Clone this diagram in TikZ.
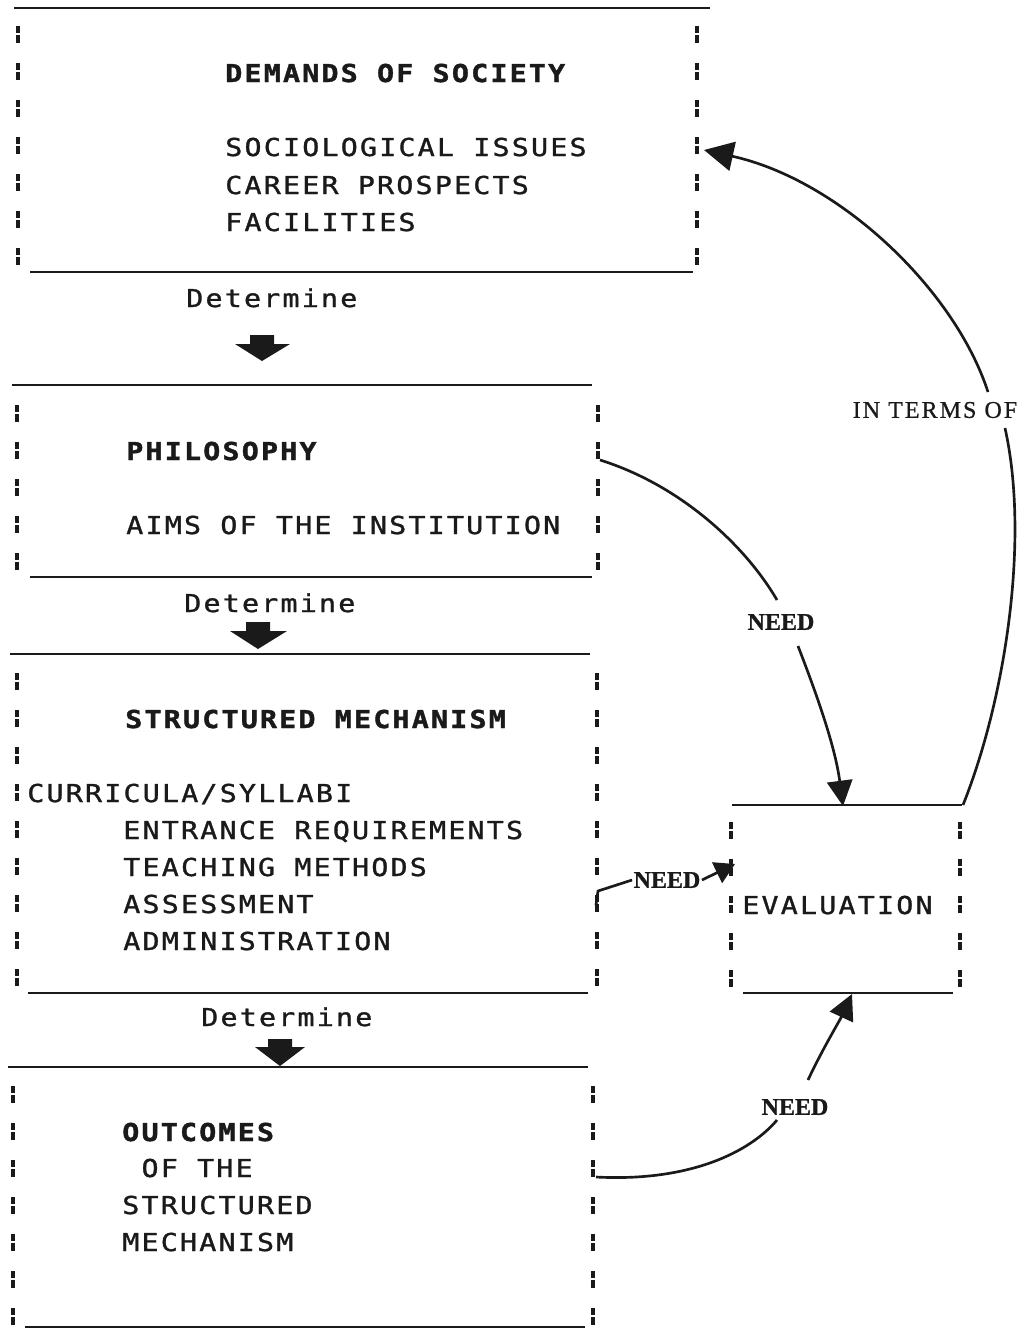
\documentclass[tikz,border=0pt]{standalone}
\usepackage{fontspec}
\usetikzlibrary{arrows.meta,calc,fit}
\newfontfamily\dotfont[FakeStretch=1.15,LetterSpace=8.8,FakeBold=1.2]{DejaVu Sans Mono}
\newfontfamily\dotfonthd[FakeStretch=1.15,LetterSpace=8.8,FakeBold=1.5]{DejaVu Sans Mono Bold}
\newfontfamily\labfont[FakeBold=1]{Liberation Serif}
\newfontfamily\labfontsp[LetterSpace=8.6,FakeBold=0.8]{Liberation Serif}
\definecolor{ink}{HTML}{1A1A1A}
\begin{document}
\begin{tikzpicture}[x=0.75pt,y=-0.75pt,
 hline/.style={line width=2.2pt, draw=ink},
 vside/.style={line width=2.4pt, draw=ink, dash pattern=on 5pt off 2pt on 6pt off 14.75pt},
 txt/.style={anchor=base west, inner sep=0pt, font=\dotfont\fontsize{18.5pt}{20pt}\selectfont, text=ink},
 hd/.style={txt, font=\dotfonthd\fontsize{18.5pt}{20pt}\selectfont},
 lab/.style={inner sep=1pt, font=\labfont\bfseries\fontsize{18pt}{20pt}\selectfont, text=ink},
 labsp/.style={inner sep=1pt, font=\labfontsp\fontsize{18pt}{20pt}\selectfont, text=ink},
 conn/.style={line width=2pt, draw=ink},
 bigtip/.style={-{Triangle[length=19pt,width=19pt]}},
 toptip/.style={-{Triangle[length=22pt,width=22pt]}},
 smalltip/.style={-{Triangle[length=15pt,width=17pt]}},
 boxarea/.style={inner sep=0pt, draw=none},
 blk/.style={fill=ink}
]
\useasboundingbox (0,0) rectangle (1035,1329);
\fill[white] (0,0) rectangle (1035,1329);

% ---------- box areas ----------
\node[boxarea, fit={(14,8) (710,272)}] (demands) {};
\node[boxarea, fit={(12,385) (598,577)}] (phil) {};
\node[boxarea, fit={(10,654) (597,993)}] (struct) {};
\node[boxarea, fit={(8,1067) (593,1327)}] (outc) {};
\node[boxarea, fit={(731,805) (962,993)}] (eval) {};

% ---------- Demands of society ----------
\draw[hline] (14,8) -- (710,8);
\draw[hline] (30,272) -- (693,272);
\draw[vside] (18,26) -- (18,270);
\draw[vside] (697,26) -- (697,268);
\node[hd]  (d0) at (225,82)  {DEMANDS OF SOCIETY};
\node[txt] (d1) at (225,156) {SOCIOLOGICAL ISSUES};
\node[txt] (d2) at (225,194) {CAREER PROSPECTS};
\node[txt] (d3) at (225,231) {FACILITIES};

\node[txt] (det1) at (186,307) {Determine};
\fill[blk] (250,335) -- (274,335) -- (274,344) -- (290,344) -- (262,361) -- (235,344) -- (250,344) -- cycle;

% ---------- Philosophy ----------
\draw[hline] (12,385) -- (592,385);
\draw[hline] (30,577) -- (592,577);
\draw[vside] (17,405) -- (17,575);
\draw[vside] (598,405) -- (598,575);
\node[hd]  (p0) at (126,460) {PHILOSOPHY};
\node[txt] (p1) at (126,534) {AIMS OF THE INSTITUTION};

\node[txt] (det2) at (184,612) {Determine};
\fill[blk] (246,622) -- (270,622) -- (270,631) -- (287,631) -- (258,649) -- (230,631) -- (246,631) -- cycle;

% ---------- Structured mechanism ----------
\draw[hline] (10,654) -- (590,654);
\draw[hline] (28,993) -- (588,993);
\draw[vside] (17,673) -- (17,990);
\draw[vside] (597,673) -- (597,990);
\node[hd]  (s0) at (125,728) {STRUCTURED MECHANISM};
\node[txt] (s1) at (27,802)  {CURRICULA/SYLLABI};
\node[txt] (s2) at (123,839) {ENTRANCE REQUIREMENTS};
\node[txt] (s3) at (123,876) {TEACHING METHODS};
\node[txt] (s4) at (123,913) {ASSESSMENT};
\node[txt] (s5) at (123,950) {ADMINISTRATION};

\node[txt] (det3) at (201,1026) {Determine};
\fill[blk] (268,1039) -- (292,1039) -- (292,1047) -- (305,1047) -- (280,1066) -- (255,1047) -- (268,1047) -- cycle;

% ---------- Outcomes ----------
\draw[hline] (8,1067) -- (588,1067);
\draw[hline] (25,1327) -- (585,1327);
\draw[vside] (13,1086) -- (13,1327);
\draw[vside] (593,1086) -- (593,1327);
\node[hd]  (o0) at (122,1141) {OUTCOMES};
\node[txt] (o1) at (122,1177) {\ OF THE};
\node[txt] (o2) at (122,1214) {STRUCTURED};
\node[txt] (o3) at (122,1251) {MECHANISM};

% ---------- Evaluation ----------
\draw[hline] (732,805) -- (962,805);
\draw[hline] (743,993) -- (953,993);
\draw[vside] (731,822) -- (731,990);
\draw[vside] (960,822) -- (960,990);
\node[txt] (e0) at (742,914) {EVALUATION};

% ---------- labels ----------
\node[lab]   (need1) at (781,622)  {NEED};
\node[lab]   (need2) at (667,880)  {NEED};
\node[lab]   (need3) at (795,1107) {NEED};
\node[labsp] (terms) at (935,410)  {IN TERMS OF};

% ---------- connector end points ----------
\coordinate (philR)   at (600,460);
\coordinate (structR) at (596,905);
\coordinate (outR)    at (596,1177);
\coordinate (evalT)   at (843,806);
\coordinate (evalTR)  at (963,805);
\coordinate (evalL)   at (735,864);
\coordinate (evalB)   at (852,994);
\coordinate (demR)    at (704,150);
\coordinate (n1in)  at (777,600);
\coordinate (n1out) at (798,646);
\coordinate (tin)   at (1005,428);
\coordinate (tout)  at (988,392);
\coordinate (n3in)  at (777,1120);
\coordinate (n3out) at (808,1080);

% ---------- connectors ----------
\draw[conn] (philR) .. controls (680,485) and (745,545) .. (n1in);
\draw[conn,bigtip] (n1out) .. controls (815,690) and (835,745) .. (evalT);

\draw[conn] (evalTR) .. controls (1005,700) and (1030,540) .. (tin);
\draw[conn,toptip] (tout) .. controls (955,290) and (840,180) .. (demR);

\draw[conn] (structR) -- ++(2,-14) -- (need2.west);
\draw[conn,smalltip] (need2.east) -- (evalL);

\draw[conn] (outR) .. controls (690,1182) and (750,1152) .. (n3in);
\draw[conn,bigtip] (n3out) .. controls (822,1050) and (840,1020) .. (evalB);
\end{tikzpicture}
\end{document}
